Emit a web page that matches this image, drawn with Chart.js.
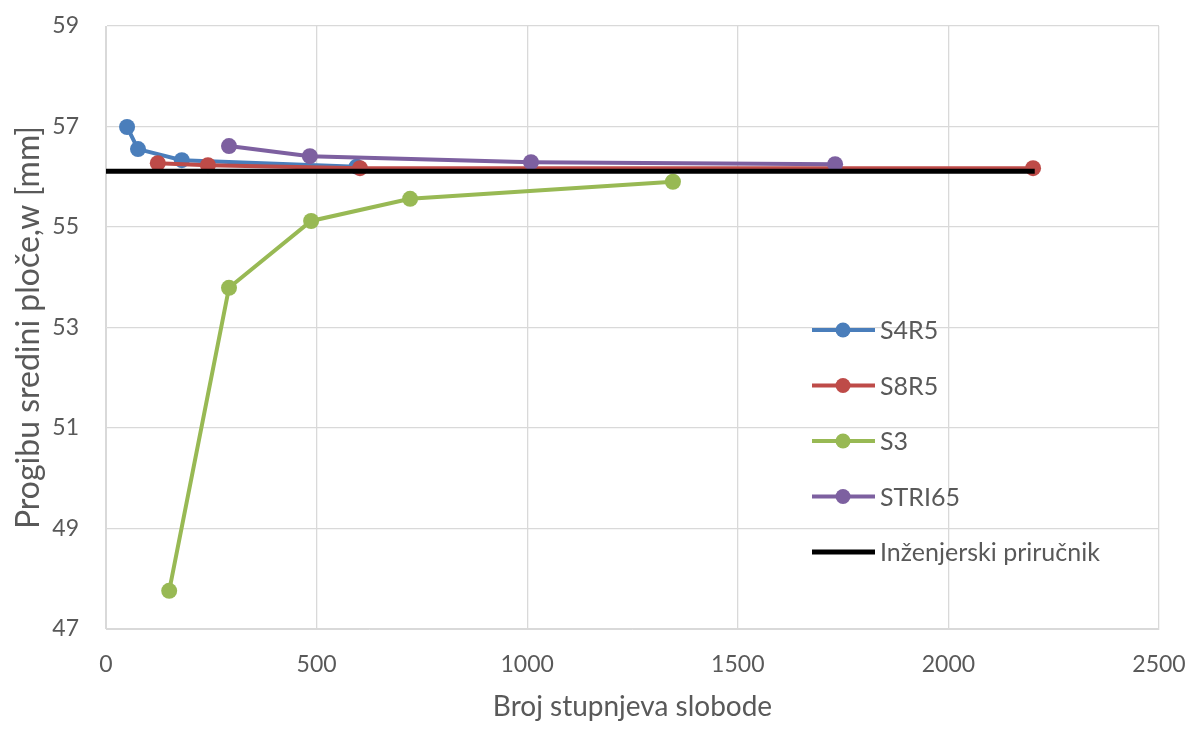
<!DOCTYPE html>
<html>
<head>
<meta charset="utf-8">
<script src="https://cdn.jsdelivr.net/npm/chart.js@4/dist/chart.umd.min.js"></script>
<style>
  body { margin: 0; background: #fff; }
  #wrap { width: 1195px; height: 731px; }
</style>
</head>
<body>
<div id="wrap"><canvas id="chart" width="1195" height="731"></canvas></div>
<script>
// values
const seriesNames = ['S4R5', 'S8R5', 'S3', 'STRI65', 'Inženjerski priručnik'];
const s4r5X = [50, 76, 180, 595];
const s4r5Y = [56.99, 56.55, 56.33, 56.2];
const s8r5X = [123, 242, 603, 2201];
const s8r5Y = [56.27, 56.23, 56.17, 56.17];
const s3X = [150, 292, 487, 722, 1346];
const s3Y = [47.76, 53.79, 55.12, 55.56, 55.9];
const stri65X = [292, 484, 1009, 1731];
const stri65Y = [56.61, 56.41, 56.29, 56.25];
const refX = [0, 2205];
const refY = [56.11, 56.11];
const yTicks = [47, 49, 51, 53, 55, 57, 59];

const colors = ['#4a7ebb', '#be4b48', '#98b954', '#7d60a0', '#000000'];
const fontFamily = 'Lato, "Open Sans", sans-serif';
const textColor = '#595959';

const toPoints = (xs, ys) => xs.map((x, i) => ({ x: x, y: ys[i] }));

const makeSet = (idx, xs, ys, withMarkers, order) => ({
    label: seriesNames[idx],
    data: toPoints(xs, ys),
    borderColor: colors[idx],
    backgroundColor: colors[idx],
    borderWidth: idx === 4 ? 5 : 4,
    pointRadius: withMarkers ? 8 : 0,
    pointBorderWidth: 0,
    pointHoverRadius: withMarkers ? 8 : 0,
    tension: 0,
    order: order
});

// draws the legend inside the plot, like the original
const insideLegend = {
    id: 'insideLegend',
    afterDraw(chart) {
        const ctx = chart.ctx;
        const x0 = 812, y0 = 330, gap = 55.5;
        ctx.save();
        ctx.font = '25px ' + fontFamily;
        ctx.textBaseline = 'middle';
        seriesNames.forEach((name, i) => {
            const y = y0 + i * gap;
            ctx.strokeStyle = colors[i];
            ctx.lineWidth = i === 4 ? 5 : 4;
            ctx.beginPath();
            ctx.moveTo(x0, y);
            ctx.lineTo(x0 + 63, y);
            ctx.stroke();
            if (i < 4) {
                ctx.fillStyle = colors[i];
                ctx.beginPath();
                ctx.arc(x0 + 31, y, 7.5, 0, Math.PI * 2);
                ctx.fill();
            }
            ctx.fillStyle = textColor;
            ctx.fillText(name, x0 + 68, y + 1);
        });
        ctx.restore();
    }
};

new Chart(document.getElementById('chart'), {
    type: 'line',
    data: {
        datasets: [
            makeSet(0, s4r5X, s4r5Y, true, 4),
            makeSet(1, s8r5X, s8r5Y, true, 3),
            makeSet(2, s3X, s3Y, true, 2),
            makeSet(3, stri65X, stri65Y, true, 1),
            makeSet(4, refX, refY, false, 0)
        ]
    },
    options: {
        responsive: false,
        animation: false,
        layout: { padding: { top: 26, right: 36, left: 0, bottom: 7 } },
        plugins: {
            legend: { display: false },
            tooltip: { enabled: false }
        },
        scales: {
            x: {
                type: 'linear',
                min: 0,
                max: 2500,
                ticks: {
                    stepSize: 500, color: textColor, font: { family: fontFamily, size: 23 }, padding: 22, maxRotation: 0,
                    callback: (v) => String(v)
                },
                grid: { color: '#d9d9d9', lineWidth: 1.3, drawTicks: false },
                border: { color: '#d9d9d9' },
                title: {
                    display: true,
                    text: 'Broj stupnjeva slobode',
                    color: textColor,
                    font: { family: fontFamily, size: 28 },
                    padding: { top: 10, bottom: 0 }
                },
                afterFit: (s) => { s.height = 95; s.paddingLeft = 0; s.paddingRight = 0; }
            },
            y: {
                type: 'linear',
                min: 47,
                max: 59,
                afterBuildTicks: (s) => { s.ticks = yTicks.map(v => ({ value: v })); },
                ticks: { color: textColor, font: { family: fontFamily, size: 23 }, padding: 27 },
                grid: { color: '#d9d9d9', lineWidth: 1.3, drawTicks: false },
                border: { color: '#d9d9d9' },
                title: {
                    display: true,
                    text: 'Progibu sredini ploče,w [mm]',
                    color: textColor,
                    font: { family: fontFamily, size: 32 },
                    padding: { top: 9, bottom: 0 }
                },
                afterFit: (s) => { s.width = 106; s.paddingTop = 0; s.paddingBottom = 0; }
            }
        }
    },
    plugins: [insideLegend]
});
</script>
</body>
</html>
